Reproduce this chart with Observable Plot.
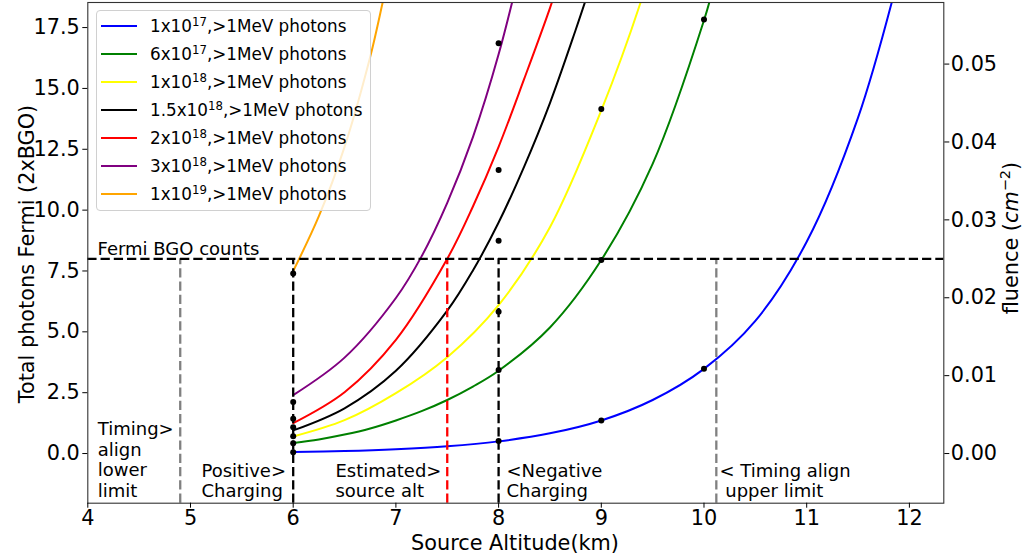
<!DOCTYPE html>
<html>
<head>
<meta charset="utf-8">
<script src="https://cdn.jsdelivr.net/npm/d3@7"></script>
<script src="https://cdn.jsdelivr.net/npm/@observablehq/plot@0.6"></script>
<style>
  body { margin: 0; background: #fff; font-family: "DejaVu Sans", sans-serif; }
  #wrap { position: relative; width: 1027px; height: 558px; overflow: hidden; }
  .axlabel { position: absolute; white-space: nowrap; font-size: 20.8px; color: #000; line-height: 1; }
  .legend { position: absolute; left: 96px; top: 10px; width: 275px; height: 201px; box-sizing: border-box;
            background: rgba(255,255,255,0.8); border: 1px solid #d0d0d0; border-radius: 4px; }
  .legend .handle { position: absolute; left: 4px; width: 36px; height: 2px; }
  .legend .txt { position: absolute; left: 53px; font-size: 16.8px; line-height: 1; white-space: nowrap; color: #000; transform: translateY(-50%); }
  .legend sup { font-size: 0.7em; vertical-align: 0.5em; line-height: 0; }
</style>
</head>
<body>
<div id="wrap"></div>
<script>
// ---------------- data ----------------
const legendMantissa = ["1", "6", "1", "1.5", "2", "3", "1"];
const legendExponent = ["17", "17", "18", "18", "18", "18", "19"];
const seriesColors = ["blue", "green", "yellow", "black", "red", "purple", "orange"];

// model curves: [altitude km, total photons]
const curve_1e17 = [[6, 0.062], [6.5, 0.105], [7, 0.18], [7.5, 0.3], [8, 0.5], [8.5, 0.83], [9, 1.36], [9.5, 2.2], [10, 3.48], [10.5, 5.45], [11, 8.7], [11.5, 13.8], [11.9, 19.7]];
const curve_6e17 = [[6, 0.43], [6.25, 0.58], [6.5, 0.78], [6.75, 1.03], [7, 1.36], [7.25, 1.74], [7.5, 2.2], [7.75, 2.75], [8, 3.4], [8.5, 5.18], [9, 7.95], [9.5, 11.9], [10, 17.8], [10.1, 19.3]];
const curve_1e18 = [[6, 0.7], [6.5, 1.37], [7, 2.48], [7.5, 3.96], [8, 6.1], [8.5, 9.3], [9, 14.1], [9.38, 18.5], [9.45, 19.5]];
const curve_15e18 = [[6, 0.95], [6.5, 1.86], [7, 3.4], [7.5, 5.87], [7.75, 7.52], [8, 9.49], [8.25, 11.8], [8.5, 14.4], [8.75, 17.4], [8.9, 19.3]];
const curve_2e18 = [[6, 1.25], [6.5, 2.52], [7, 4.67], [7.5, 8.0], [7.75, 10.15], [8, 12.6], [8.25, 15.4], [8.5, 18.3], [8.6, 19.6]];
const curve_3e18 = [[6, 2.4], [6.5, 3.94], [7, 6.39], [7.25, 8.1], [7.5, 10.3], [7.75, 13.0], [8, 16.4], [8.25, 20.6]];
const curve_1e19 = [[6, 7.5], [6.25, 9.75], [6.5, 12.6], [6.75, 16.3], [6.88, 18.7], [6.95, 20.0]];
const seriesCurves = [curve_1e17, curve_6e17, curve_1e18, curve_15e18, curve_2e18, curve_3e18, curve_1e19];

// simulated points: altitude and photon counts
const dotAlt6 = [6, 6, 6, 6, 6, 6, 6];
const dotVal6 = [7.4, 2.12, 1.43, 1.08, 0.71, 0.42, 0.05];
const dotAlt8 = [8, 8, 8, 8, 8, 8];
const dotVal8 = [16.86, 11.65, 8.74, 5.83, 3.43, 0.52];
const dotAlt9 = [9, 9, 9];
const dotVal9 = [14.15, 7.95, 1.36];
const dotAlt10 = [10, 10];
const dotVal10 = [17.83, 3.48];

// reference lines
const fermiCounts = 8;
const markerAlts = [4.9, 6, 7.5, 8, 10.12];
const markerColors = ["gray", "black", "red", "black", "gray"];

// annotations
const annotationTexts = ["Fermi BGO counts", "Timing>\nalign\nlower\nlimit", "Positive>\nCharging", "Estimated>\nsource alt", "<Negative\nCharging", "< Timing align\n\u00a0upper limit"];
const annotationAlt = [4.095, 4.097, 5.107, 6.411, 8.077, 10.151];
const annotationLevel = [8.42, -0.25, -1.11, -1.11, -1.11, -1.11];

// ticks
const xTicks = [4, 5, 6, 7, 8, 9, 10, 11, 12];
const yTicks = [0, 2.5, 5, 7.5, 10, 12.5, 15, 17.5];
const fluenceTicks = [0, 0.01, 0.02, 0.03, 0.04, 0.05];
const photonsPerFluence = 320; // right-axis conversion (photons per cm^-2)

// ---------------- chart ----------------
const X_DOMAIN = [4, 12.335];
const Y_DOMAIN = [-2.04, 18.53];

const dots = [
  ...dotAlt6.map((a, i) => ({x: a, y: dotVal6[i]})),
  ...dotAlt8.map((a, i) => ({x: a, y: dotVal8[i]})),
  ...dotAlt9.map((a, i) => ({x: a, y: dotVal9[i]})),
  ...dotAlt10.map((a, i) => ({x: a, y: dotVal10[i]}))
];
const annotations = annotationTexts.map((t, i) => ({text: t, x: annotationAlt[i], y: annotationLevel[i]}));

const dash = "9.25,4";
const marks = [];
seriesCurves.forEach((pts, i) => {
  marks.push(Plot.line(pts, {x: d => d[0], y: d => d[1], stroke: seriesColors[i], strokeWidth: 2, curve: "catmull-rom", clip: true}));
});
markerAlts.forEach((a, i) => {
  marks.push(Plot.ruleX([a], {y1: Y_DOMAIN[0], y2: fermiCounts, stroke: markerColors[i], strokeWidth: 2.3, strokeDasharray: dash}));
});
marks.push(Plot.ruleY([fermiCounts], {stroke: "black", strokeWidth: 2.3, strokeDasharray: dash}));
marks.push(Plot.dot(dots, {x: "x", y: "y", r: 3, fill: "black"}));
marks.push(Plot.text(annotations, {x: "x", y: "y", text: "text", textAnchor: "start", lineAnchor: "middle", fontSize: 18, lineHeight: 1.14, fill: "black"}));
marks.push(Plot.frame({stroke: "#333", strokeWidth: 1.1}));
marks.push(Plot.axisX(xTicks, {anchor: "bottom", tickSize: 5, tickPadding: 2, fontSize: 20.8, stroke: "black", label: null, tickFormat: d => String(d)}));
marks.push(Plot.axisY(yTicks, {anchor: "left", tickSize: 5, tickPadding: 3, fontSize: 20.8, stroke: "black", label: null, tickFormat: d => d.toFixed(1)}));
marks.push(Plot.axisY(fluenceTicks.map(f => f * photonsPerFluence), {anchor: "right", tickSize: 5, tickPadding: 2, fontSize: 20.8, stroke: "black", label: null, tickFormat: d => (d / photonsPerFluence).toFixed(2)}));

const chart = Plot.plot({
  width: 1027,
  height: 558,
  marginLeft: 87.3,
  marginRight: 83.7,
  marginTop: 2,
  marginBottom: 55.3,
  x: {domain: X_DOMAIN},
  y: {domain: Y_DOMAIN},
  style: {fontFamily: "DejaVu Sans", fontSize: "20.8px", background: "white", color: "black"},
  marks
});

const wrap = document.getElementById("wrap");
wrap.appendChild(chart);

// axis titles
function addLabel(html, cx, cy, rot) {
  const d = document.createElement("div");
  d.className = "axlabel";
  d.innerHTML = html;
  d.style.left = cx + "px";
  d.style.top = cy + "px";
  d.style.transform = "translate(-50%,-50%)" + (rot ? " rotate(" + rot + "deg)" : "");
  wrap.appendChild(d);
}
addLabel("Source Altitude(km)", 515, 543, 0);
addLabel("Total photons Fermi (2xBGO)", 27, 254, -90);
addLabel("fluence (<i>cm</i><sup style=\"font-size:0.7em;vertical-align:0.5em;line-height:0\">\u22122</sup>)", 1011, 238, -90);

// legend
const legend = document.createElement("div");
legend.className = "legend";
legendMantissa.forEach((m, i) => {
  const cy = 15 + 28 * i;
  const h = document.createElement("div");
  h.className = "handle";
  h.style.top = (cy - 1) + "px";
  h.style.background = seriesColors[i];
  legend.appendChild(h);
  const t = document.createElement("div");
  t.className = "txt";
  t.style.top = cy + "px";
  t.innerHTML = m + "x10<sup>" + legendExponent[i] + "</sup>,&gt;1MeV photons";
  legend.appendChild(t);
});
wrap.appendChild(legend);
</script>
</body>
</html>
